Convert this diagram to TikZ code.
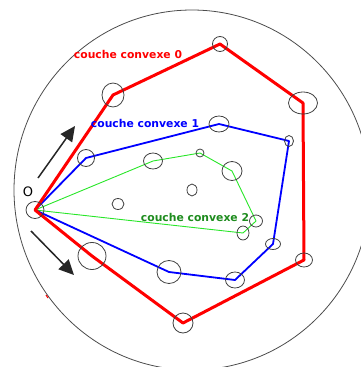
\documentclass[tikz,border=0pt]{standalone}
\usepackage{fontspec}
\setmainfont{DejaVu Sans}
\usepackage{tikz}
\usetikzlibrary{arrows.meta}

\definecolor{hullgreen}{RGB}{40,230,40}
\definecolor{labelgreen}{RGB}{30,140,30}

\begin{document}
\begin{tikzpicture}[x=1pt, y=-1pt,
    grain/.style={draw=black!75, line width=0.8pt},
    hullzero/.style={draw=red, line width=3pt, line join=round},
    hullone/.style={draw=blue, line width=1.8pt, line join=round},
    hulltwo/.style={draw=hullgreen, line width=0.9pt, line join=round},
    lbl/.style={font=\bfseries\fontsize{10.8}{13}\selectfont, inner sep=0pt},
    arrow/.style={-{Triangle[length=15pt, width=14pt]}, line width=1.5pt, draw=black!85}
  ]
    \useasboundingbox (0,0) rectangle (361,367);
    \clip (0,0) rectangle (361,367);
    \draw[black!70, line width=0.8pt] (192,190) ellipse [x radius=178pt, y radius=180pt];
    \draw[red, line width=1pt] (46,295) -- (48,298);

    % points of the layers
    \coordinate (O) at (35,210);
    \coordinate (r1) at (113,95);
    \coordinate (r2) at (220,44);
    \coordinate (r3) at (303,103);
    \coordinate (r4) at (304,260);
    \coordinate (r5) at (183,323);
    \coordinate (r6) at (92,256);
    \coordinate (b1) at (86,158);
    \coordinate (b2) at (219,124);
    \coordinate (b3) at (289,141);
    \coordinate (b4) at (273,244);
    \coordinate (b5) at (235,280);
    \coordinate (b6) at (169,272);
    \coordinate (g1) at (153,161);
    \coordinate (g2) at (200,153);
    \coordinate (g3) at (232,171);
    \coordinate (g4) at (256,221);
    \coordinate (g5) at (243,233);
    \coordinate (c1) at (192,190);
    \coordinate (c2) at (118,204);

    \draw[hulltwo] (O) -- (g1) -- (g2) -- (g3) -- (g4) -- (g5) -- cycle;
    \draw[hullone] (O) -- (b1) -- (b2) -- (b3) -- (b4) -- (b5) -- (b6) -- cycle;
    \draw[hullzero] (O) -- (r1) -- (r2) -- (r3) -- (r4) -- (r5) -- (r6) -- cycle;

    \foreach \v/\rx/\ry in {O/9pt/8.5pt, r1/11pt/12pt, r2/7.5pt/7.5pt, r3/14.5pt/11pt,
        r4/8.5pt/7pt, r5/10pt/10pt, r6/14pt/13.5pt, b1/8.5pt/8.5pt, b2/10pt/8pt,
        b3/4.5pt/5.5pt, b4/7.5pt/5.5pt, b5/9.5pt/8pt, b6/12pt/11.5pt, g1/9.5pt/8pt,
        g2/4pt/4pt, g3/10pt/9.5pt, g4/6.5pt/6pt, g5/6pt/7pt, c1/5pt/6pt, c2/6pt/5.5pt}
      \draw[grain] (\v) ellipse [x radius=\rx, y radius=\ry];

    \coordinate (upstart) at (38,178);
    \coordinate (upend) at (75,126);
    \coordinate (downstart) at (31,231);
    \coordinate (downend) at (74,275);
    \draw[arrow] (upstart) -- (upend);
    \draw[arrow] (downstart) -- (downend);

    \node[lbl, text=red] (labzero) at (128,54) {couche convexe 0};
    \node[lbl, text=blue] (labone) at (145,123) {couche convexe 1};
    \node[lbl, text=labelgreen] (labtwo) at (195,217) {couche convexe 2};
    \node[font=\fontsize{13}{15}\selectfont, inner sep=0pt] (origin) at (28,192) {O};
  \end{tikzpicture}
\end{document}
